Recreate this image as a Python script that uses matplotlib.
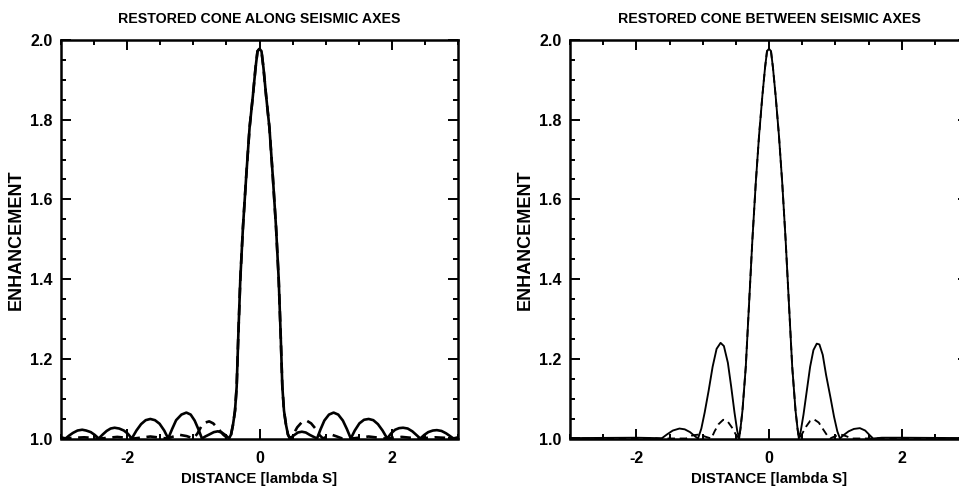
import matplotlib
matplotlib.use("Agg")
import matplotlib.pyplot as plt
from matplotlib.ticker import MultipleLocator, FormatStrFormatter

plt.rcParams['font.family'] = ['Liberation Sans', 'DejaVu Sans']
plt.rcParams['font.weight'] = 'bold'

# ---------------- data: left panel (along seismic axes) ----------------
along_solid_x = [-3.0, -2.93, -2.88, -2.82, -2.75, -2.68, -2.62, -2.55, -2.49, -2.43,
                 -2.37, -2.31, -2.25, -2.19, -2.12, -2.05, -1.99, -1.93,
                 -1.86, -1.79, -1.72, -1.65, -1.58, -1.51, -1.44, -1.38,
                 -1.32, -1.26, -1.18, -1.105, -1.04, -0.98, -0.92, -0.87,
                 -0.82, -0.76, -0.69, -0.63, -0.57, -0.51, -0.46,
                 -0.43, -0.40, -0.37, -0.345, -0.32, -0.29, -0.25, -0.20, -0.15, -0.10, -0.06, -0.03,
                 0.0,
                 0.03, 0.06, 0.10, 0.15, 0.20, 0.25, 0.29, 0.32, 0.345, 0.37, 0.40, 0.43, 0.46,
                 0.52, 0.58, 0.64, 0.70, 0.76, 0.82, 0.87,
                 0.92, 0.98, 1.05, 1.12, 1.19, 1.26, 1.32, 1.38,
                 1.44, 1.51, 1.58, 1.65, 1.72, 1.79, 1.86, 1.93,
                 1.99, 2.05, 2.11, 2.17, 2.24, 2.31, 2.37, 2.43,
                 2.49, 2.55, 2.62, 2.68, 2.75, 2.82, 2.88, 2.93, 3.0]
along_solid_y = [1.003, 1.0, 1.007, 1.014, 1.020, 1.022, 1.020, 1.016, 1.009, 1.0,
                 1.010, 1.019, 1.025, 1.027, 1.025, 1.020, 1.012, 1.0,
                 1.020, 1.036, 1.046, 1.049, 1.046, 1.037, 1.020, 1.0,
                 1.024, 1.046, 1.060, 1.065, 1.060, 1.045, 1.022, 1.0,
                 1.005, 1.010, 1.016, 1.018, 1.015, 1.008, 1.0,
                 1.010, 1.035, 1.07, 1.13, 1.26, 1.40, 1.53, 1.66, 1.78, 1.86, 1.93, 1.972,
                 1.978,
                 1.972, 1.93, 1.86, 1.78, 1.66, 1.53, 1.40, 1.26, 1.13, 1.07, 1.035, 1.010, 1.0,
                 1.008, 1.015, 1.017, 1.015, 1.009, 1.004, 1.0,
                 1.022, 1.045, 1.060, 1.065, 1.060, 1.045, 1.024, 1.0,
                 1.020, 1.038, 1.047, 1.049, 1.046, 1.036, 1.020, 1.0,
                 1.013, 1.022, 1.026, 1.027, 1.025, 1.018, 1.009, 1.0,
                 1.009, 1.016, 1.020, 1.021, 1.019, 1.013, 1.006, 1.0, 1.003]

along_dash_x = [-3.0, -2.65, -2.4, -2.15, -1.9, -1.65, -1.4, -1.30, -1.20, -1.10, -1.0,
                -0.94, -0.88, -0.82, -0.76, -0.70, -0.62, -0.55, -0.50, -0.46,
                -0.43, -0.40, -0.37, -0.345, -0.32, -0.29, -0.25, -0.20, -0.15, -0.10, -0.06, -0.03,
                0.0,
                0.03, 0.06, 0.10, 0.15, 0.20, 0.25, 0.29, 0.32, 0.345, 0.37, 0.40, 0.43, 0.46,
                0.51, 0.57, 0.64, 0.71, 0.78, 0.85, 0.91, 0.96,
                1.03, 1.10, 1.17, 1.25, 1.4, 1.65, 1.9, 2.15, 2.4, 2.65, 3.0]
along_dash_y = [1.0, 1.003, 1.0, 1.004, 1.0, 1.005, 1.0, 1.005, 1.009, 1.006, 1.0,
                1.012, 1.030, 1.040, 1.043, 1.038, 1.024, 1.010, 1.003, 1.0,
                1.010, 1.035, 1.07, 1.13, 1.26, 1.40, 1.53, 1.66, 1.78, 1.86, 1.93, 1.972,
                1.978,
                1.972, 1.93, 1.86, 1.78, 1.66, 1.53, 1.40, 1.26, 1.13, 1.07, 1.035, 1.010, 1.0,
                1.010, 1.028, 1.041, 1.045, 1.038, 1.024, 1.008, 1.0,
                1.006, 1.009, 1.005, 1.0, 1.0, 1.005, 1.0, 1.004, 1.0, 1.003, 1.0]

# ---------------- data: right panel (between seismic axes) ----------------
between_solid_x = [-3.0, -2.0, -1.7, -1.62, -1.54, -1.45, -1.35, -1.27, -1.19, -1.12, -1.07,
                   -1.02, -0.97, -0.91, -0.85, -0.79, -0.73, -0.68, -0.62, -0.57, -0.52, -0.48, -0.45,
                   -0.43, -0.40, -0.35, -0.30, -0.25, -0.20, -0.15, -0.10, -0.06, -0.03,
                   0.0,
                   0.03, 0.06, 0.10, 0.15, 0.20, 0.25, 0.30, 0.35, 0.40, 0.43,
                   0.45, 0.48, 0.52, 0.57, 0.62, 0.67, 0.72, 0.76, 0.81, 0.86, 0.93, 0.98, 1.03, 1.07,
                   1.12, 1.20, 1.28, 1.37, 1.45, 1.52, 1.57, 1.7, 2.0, 3.0]
between_solid_y = [1.001, 1.002, 1.001, 1.0, 1.010, 1.020, 1.025, 1.023, 1.016, 1.006, 1.0,
                   1.025, 1.065, 1.12, 1.18, 1.225, 1.240, 1.232, 1.19, 1.13, 1.065, 1.02, 1.0,
                   1.025, 1.07, 1.18, 1.34, 1.50, 1.64, 1.76, 1.86, 1.93, 1.972,
                   1.978,
                   1.972, 1.93, 1.86, 1.76, 1.64, 1.50, 1.34, 1.18, 1.07, 1.025,
                   1.0, 1.02, 1.06, 1.12, 1.18, 1.222, 1.238, 1.236, 1.21, 1.16, 1.10, 1.055, 1.018, 1.0,
                   1.008, 1.018, 1.024, 1.026, 1.020, 1.008, 1.0, 1.002, 1.002, 1.001]

between_dash_x = [-3.0, -2.0, -1.5, -1.25, -1.15, -1.05, -0.95, -0.87,
                  -0.82, -0.76, -0.69, -0.62, -0.56, -0.50, -0.45,
                  -0.43, -0.40, -0.35, -0.30, -0.25, -0.20, -0.15, -0.10, -0.06, -0.03,
                  0.0,
                  0.03, 0.06, 0.10, 0.15, 0.20, 0.25, 0.30, 0.35, 0.40, 0.43, 0.45,
                  0.50, 0.56, 0.62, 0.68, 0.75, 0.82, 0.88, 0.92,
                  1.0, 1.08, 1.16, 1.25, 1.5, 2.0, 3.0]
between_dash_y = [1.0, 1.001, 1.0, 1.0, 1.008, 1.010, 1.004, 1.0,
                  1.018, 1.036, 1.047, 1.042, 1.028, 1.010, 1.0,
                  1.025, 1.07, 1.18, 1.34, 1.50, 1.64, 1.76, 1.86, 1.93, 1.972,
                  1.978,
                  1.972, 1.93, 1.86, 1.76, 1.64, 1.50, 1.34, 1.18, 1.07, 1.025, 1.0,
                  1.012, 1.030, 1.044, 1.048, 1.040, 1.022, 1.007, 1.0,
                  1.006, 1.010, 1.006, 1.0, 1.0, 1.001, 1.0]

titles = ["RESTORED CONE ALONG SEISMIC AXES", "RESTORED CONE BETWEEN SEISMIC AXES"]
xlabel = "DISTANCE [lambda S]"
ylabel = "ENHANCEMENT"
xticks = [-2, 0, 2]
yticks = [1.0, 1.2, 1.4, 1.6, 1.8, 2.0]

W, H = 959, 494
fig = plt.figure(figsize=(W / 100, H / 100), dpi=100)
fig.patch.set_facecolor("white")

ax_pos = [
    [61 / W, (H - 438.5) / H, 397 / W, 398.5 / H],
    [570 / W, (H - 438.5) / H, 398 / W, 398.5 / H],
]
panels = [
    (along_solid_x, along_solid_y, along_dash_x, along_dash_y, 1.9),
    (between_solid_x, between_solid_y, between_dash_x, between_dash_y, 1.35),
]

for i, (sx, sy, dx, dy, lw) in enumerate(panels):
    ax = fig.add_axes(ax_pos[i])
    ax.plot(dx, dy, color="black", lw=lw, ls=(0, (4, 2.5)), clip_on=True)
    ax.plot(sx, sy, color="black", lw=lw, solid_joinstyle="round", clip_on=True)
    ax.set_xlim(-3.0, 3.0)
    ax.set_ylim(1.0, 2.0)
    ax.set_xticks(xticks)
    ax.set_yticks(yticks)
    ax.xaxis.set_minor_locator(MultipleLocator(0.5))
    ax.yaxis.set_minor_locator(MultipleLocator(0.05))
    ax.yaxis.set_major_formatter(FormatStrFormatter("%.1f"))
    ax.xaxis.set_major_formatter(FormatStrFormatter("%d"))
    ax.tick_params(which="both", direction="in", top=True, right=True,
                   width=1.4, labelsize=11.5, colors="black")
    ax.tick_params(which="major", length=7.5)
    ax.tick_params(which="minor", length=3.8)
    ax.tick_params(axis="x", which="major", pad=9)
    ax.tick_params(axis="y", which="major", pad=6)
    for sp in ax.spines.values():
        sp.set_linewidth(1.8)
    ax.set_title(titles[i], fontsize=10.2, fontweight="bold", pad=12)
    ax.set_xlabel(xlabel, fontsize=10.8, fontweight="bold", labelpad=4)
    ax.set_ylabel(ylabel, fontsize=13, fontweight="bold", labelpad=4)

fig.savefig("out.png", dpi=100, facecolor="white")
